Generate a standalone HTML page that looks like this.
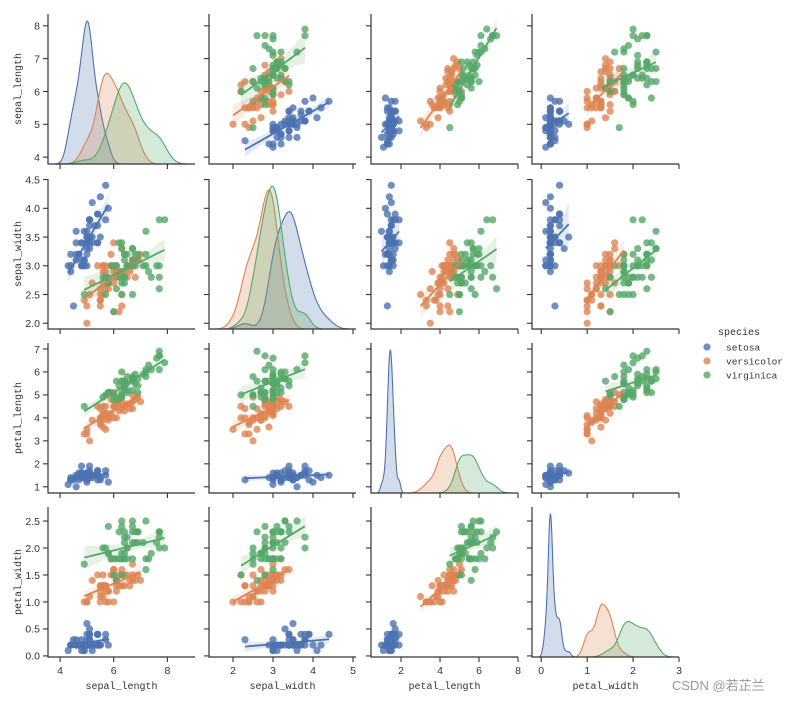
<!DOCTYPE html>
<html><head><meta charset="utf-8"><style>
body{margin:0;background:#fff;}
svg{display:block;}
text{fill:#333;}
</style></head><body>
<svg id="chart" width="788" height="701" xmlns="http://www.w3.org/2000/svg"></svg>
<script>
// ---- data (iris) ----
const species = ["setosa","versicolor","virginica"];
const variables = ["sepal_length","sepal_width","petal_length","petal_width"];
const setosaSL=[5.1,4.9,4.7,4.6,5.0,5.4,4.6,5.0,4.4,4.9,5.4,4.8,4.8,4.3,5.8,5.7,5.4,5.1,5.7,5.1,5.4,5.1,4.6,5.1,4.8,5.0,5.0,5.2,5.2,4.7,4.8,5.4,5.2,5.5,4.9,5.0,5.5,4.9,4.4,5.1,5.0,4.5,4.4,5.0,5.1,4.8,5.1,4.6,5.3,5.0];
const setosaSW=[3.5,3.0,3.2,3.1,3.6,3.9,3.4,3.4,2.9,3.1,3.7,3.4,3.0,3.0,4.0,4.4,3.9,3.5,3.8,3.8,3.4,3.7,3.6,3.3,3.4,3.0,3.4,3.5,3.4,3.2,3.1,3.4,4.1,4.2,3.1,3.2,3.5,3.6,3.0,3.4,3.5,2.3,3.2,3.5,3.8,3.0,3.8,3.2,3.7,3.3];
const setosaPL=[1.4,1.4,1.3,1.5,1.4,1.7,1.4,1.5,1.4,1.5,1.5,1.6,1.4,1.1,1.2,1.5,1.3,1.4,1.7,1.5,1.7,1.5,1.0,1.7,1.9,1.6,1.6,1.5,1.4,1.6,1.6,1.5,1.5,1.4,1.5,1.2,1.3,1.4,1.3,1.5,1.3,1.3,1.3,1.6,1.9,1.4,1.6,1.4,1.5,1.4];
const setosaPW=[0.2,0.2,0.2,0.2,0.2,0.4,0.3,0.2,0.2,0.1,0.2,0.2,0.1,0.1,0.2,0.4,0.4,0.3,0.3,0.3,0.2,0.4,0.2,0.5,0.2,0.2,0.4,0.2,0.2,0.2,0.2,0.4,0.1,0.2,0.2,0.2,0.2,0.1,0.2,0.2,0.3,0.3,0.2,0.6,0.4,0.3,0.2,0.2,0.2,0.2];
const versicolorSL=[7.0,6.4,6.9,5.5,6.5,5.7,6.3,4.9,6.6,5.2,5.0,5.9,6.0,6.1,5.6,6.7,5.6,5.8,6.2,5.6,5.9,6.1,6.3,6.1,6.4,6.6,6.8,6.7,6.0,5.7,5.5,5.5,5.8,6.0,5.4,6.0,6.7,6.3,5.6,5.5,5.5,6.1,5.8,5.0,5.6,5.7,5.7,6.2,5.1,5.7];
const versicolorSW=[3.2,3.2,3.1,2.3,2.8,2.8,3.3,2.4,2.9,2.7,2.0,3.0,2.2,2.9,2.9,3.1,3.0,2.7,2.2,2.5,3.2,2.8,2.5,2.8,2.9,3.0,2.8,3.0,2.9,2.6,2.4,2.4,2.7,2.7,3.0,3.4,3.1,2.3,3.0,2.5,2.6,3.0,2.6,2.3,2.7,3.0,2.9,2.9,2.5,2.8];
const versicolorPL=[4.7,4.5,4.9,4.0,4.6,4.5,4.7,3.3,4.6,3.9,3.5,4.2,4.0,4.7,3.6,4.4,4.5,4.1,4.5,3.9,4.8,4.0,4.9,4.7,4.3,4.4,4.8,5.0,4.5,3.5,3.8,3.7,3.9,5.1,4.5,4.5,4.7,4.4,4.1,4.0,4.4,4.6,4.0,3.3,4.2,4.2,4.2,4.3,3.0,4.1];
const versicolorPW=[1.4,1.5,1.5,1.3,1.5,1.3,1.6,1.0,1.3,1.4,1.0,1.5,1.0,1.4,1.3,1.4,1.5,1.0,1.5,1.1,1.8,1.3,1.5,1.2,1.3,1.4,1.4,1.7,1.5,1.0,1.1,1.0,1.2,1.6,1.5,1.6,1.5,1.3,1.3,1.3,1.2,1.4,1.2,1.0,1.3,1.2,1.3,1.3,1.1,1.3];
const virginicaSL=[6.3,5.8,7.1,6.3,6.5,7.6,4.9,7.3,6.7,7.2,6.5,6.4,6.8,5.7,5.8,6.4,6.5,7.7,7.7,6.0,6.9,5.6,7.7,6.3,6.7,7.2,6.2,6.1,6.4,7.2,7.4,7.9,6.4,6.3,6.1,7.7,6.3,6.4,6.0,6.9,6.7,6.9,5.8,6.8,6.7,6.7,6.3,6.5,6.2,5.9];
const virginicaSW=[3.3,2.7,3.0,2.9,3.0,3.0,2.5,2.9,2.5,3.6,3.2,2.7,3.0,2.5,2.8,3.2,3.0,3.8,2.6,2.2,3.2,2.8,2.8,2.7,3.3,3.2,2.8,3.0,2.8,3.0,2.8,3.8,2.8,2.8,2.6,3.0,3.4,3.1,3.0,3.1,3.1,3.1,2.7,3.2,3.3,3.0,2.5,3.0,3.4,3.0];
const virginicaPL=[6.0,5.1,5.9,5.6,5.8,6.6,4.5,6.3,5.8,6.1,5.1,5.3,5.5,5.0,5.1,5.3,5.5,6.7,6.9,5.0,5.7,4.9,6.7,4.9,5.7,6.0,4.8,4.9,5.6,5.8,6.1,6.4,5.6,5.1,5.6,6.1,5.6,5.5,4.8,5.4,5.6,5.1,5.1,5.9,5.7,5.2,5.0,5.2,5.4,5.1];
const virginicaPW=[2.5,1.9,2.1,1.8,2.2,2.1,1.7,1.8,1.8,2.5,2.0,1.9,2.1,2.0,2.4,2.3,1.8,2.2,2.3,1.5,2.3,2.0,2.0,1.8,2.1,1.8,1.8,1.8,2.1,1.6,1.9,2.0,2.2,1.5,1.4,2.3,2.4,1.8,1.8,2.1,2.4,2.3,1.9,2.3,2.5,2.3,1.9,2.0,2.3,1.8];
const xTicksSL=[4,6,8], xTicksSW=[2,3,4,5], xTicksPL=[2,4,6,8], xTicksPW=[0,1,2,3];
const yTicksSL=[4,5,6,7,8], yTicksSW=[2.0,2.5,3.0,3.5,4.0,4.5], yTicksPL=[1,2,3,4,5,6,7], yTicksPW=[0.0,0.5,1.0,1.5,2.0,2.5];

const DATA={setosa:[setosaSL,setosaSW,setosaPL,setosaPW],versicolor:[versicolorSL,versicolorSW,versicolorPL,versicolorPW],virginica:[virginicaSL,virginicaSW,virginicaPL,virginicaPW]};
const COLORS={setosa:"#4c72b0",versicolor:"#dd8452",virginica:"#55a868"};
const XT=[xTicksSL,xTicksSW,xTicksPL,xTicksPW], YT=[yTicksSL,yTicksSW,yTicksPL,yTicksPW];
const XDOM=[[3.55,9.03],[1.4,5.075],[0.46,8.0],[-0.2,3.0]];
const YDOM=[[3.79,8.36],[1.9,4.51],[0.73,7.26],[-0.02,2.76]];
const COLL=[48,209,371,532], ROWT=[14,179,343,507], PW=147, PH=150;

const NS="http://www.w3.org/2000/svg";
const svg=document.getElementById("chart");
function mk(tag,attrs,parent){const e=document.createElementNS(NS,tag);for(const k in attrs)e.setAttribute(k,attrs[k]);(parent||svg).appendChild(e);return e;}
function xs(c,v){const d=XDOM[c];return COLL[c]+(v-d[0])/(d[1]-d[0])*PW;}
function ys(r,v){const d=YDOM[r];return ROWT[r]+PH-(v-d[0])/(d[1]-d[0])*PH;}
function fmtY(r,v){return r===0||r===2?String(v):v.toFixed(1);}
function mean(a){return a.reduce((s,v)=>s+v,0)/a.length;}
function std(a){const m=mean(a);return Math.sqrt(a.reduce((s,v)=>s+(v-m)*(v-m),0)/(a.length-1));}

for(let r=0;r<4;r++)for(let c=0;c<4;c++){
  const g=mk("g",{});
  
  
  const clipId='clip'+r+c;
  const cp=mk("clipPath",{id:clipId},g);mk("rect",{x:COLL[c],y:ROWT[r],width:PW,height:PH},cp);
  const plot=mk("g",{"clip-path":"url(#"+clipId+")"},g);
  if(r===c){
    // KDE diag
    const curves=[];let gmax=0;
    const d=XDOM[c];
    species.forEach(sp=>{
      const a=DATA[sp][c];const bw=std(a)*Math.pow(a.length,-0.2);
      const lo=Math.min(...a)-3*bw, hi=Math.max(...a)+3*bw;
      const pts=[];
      for(let i=0;i<=200;i++){const x=lo+(hi-lo)*i/200;let s=0;for(const v of a){const z=(x-v)/bw;s+=Math.exp(-0.5*z*z);}
        const dens=s/(a.length*bw*Math.sqrt(2*Math.PI))/3;pts.push([x,dens]);if(dens>gmax)gmax=dens;}
      curves.push([sp,pts]);
    });
    const ymax=gmax*1.05;
    curves.forEach(([sp,pts])=>{
      const base=ROWT[r]+PH;
      const P=pts.map(p=>[xs(c,p[0]),base-p[1]/ymax*PH]);
      let dstr="M"+P[0][0]+","+base+P.map(p=>"L"+p[0].toFixed(2)+","+p[1].toFixed(2)).join("")+"L"+P[P.length-1][0]+","+base+"Z";
      const f=mk("path",{d:dstr,fill:COLORS[sp],"fill-opacity":0.25,stroke:"none"},plot);
      
      
      const l=mk("path",{d:"M"+P.map(p=>p[0].toFixed(2)+","+p[1].toFixed(2)).join("L"),fill:"none",stroke:COLORS[sp],"stroke-width":1.1},plot);
      
      
    });
  } else {
    species.forEach(sp=>{
      const X=DATA[sp][c], Y=DATA[sp][r];
      X.forEach((xv,i)=>{
        const pt=mk("circle",{cx:xs(c,xv).toFixed(2),cy:ys(r,Y[i]).toFixed(2),r:3.6,fill:COLORS[sp],"fill-opacity":0.8},plot);
        
        
      });
    });
    species.forEach(sp=>{
      const X=DATA[sp][c], Y=DATA[sp][r];const n=X.length;
      const mx=mean(X),my=mean(Y);let sxx=0,sxy=0;
      for(let i=0;i<n;i++){sxx+=(X[i]-mx)**2;sxy+=(X[i]-mx)*(Y[i]-my);}
      const b=sxy/sxx,a0=my-b*mx;let sse=0;for(let i=0;i<n;i++)sse+=(Y[i]-a0-b*X[i])**2;
      const s=Math.sqrt(sse/(n-2));
      const lo=Math.min(...X),hi=Math.max(...X);
      const up=[],dn=[];
      for(let i=0;i<=40;i++){const x=lo+(hi-lo)*i/40;const yh=a0+b*x;const se=2.01*s*Math.sqrt(1/n+(x-mx)**2/sxx);
        up.push([xs(c,x),ys(r,yh+se)]);dn.push([xs(c,x),ys(r,yh-se)]);}
      const band=up.concat(dn.reverse());
      const bp=mk("path",{d:"M"+band.map(p=>p[0].toFixed(2)+","+p[1].toFixed(2)).join("L")+"Z",fill:COLORS[sp],"fill-opacity":0.15},plot);
      
      
      const ln=mk("line",{x1:xs(c,lo),y1:ys(r,a0+b*lo),x2:xs(c,hi),y2:ys(r,a0+b*hi),stroke:COLORS[sp],"stroke-width":1.8},plot);
      
      
    });
  }
  // axes
  const x0=COLL[c], yb=ROWT[r]+PH;
  const ax=mk("path",{d:`M${x0},${ROWT[r]}L${x0},${yb}L${x0+PW},${yb}`,fill:"none",stroke:"#333","stroke-width":1.2},g);
  
  
  XT[c].forEach(t=>{const x=xs(c,t);mk("line",{x1:x,y1:yb,x2:x,y2:yb+5,stroke:"#333","stroke-width":1.1},g);
    if(r===3){const tl=mk("text",{x:x,y:yb+17,"text-anchor":"middle","font-size":"10.5","font-family":"Liberation Sans, sans-serif"},g);tl.textContent=t;
      
      }});
  YT[r].forEach(t=>{const y=ys(r,t);mk("line",{x1:x0-5,y1:y,x2:x0,y2:y,stroke:"#333","stroke-width":1.1},g);
    if(c===0){const tl=mk("text",{x:x0-8,y:y+3.8,"text-anchor":"end","font-size":"10.5","font-family":"Liberation Sans, sans-serif"},g);tl.textContent=fmtY(r,t);
      
      }});
}
// axis titles
variables.forEach((v,i)=>{
  const xt=mk("text",{x:COLL[i]+PW/2,y:689,"text-anchor":"middle","font-size":"10","font-family":"Liberation Mono, monospace"});xt.textContent=v;
  
  
  const cy=ROWT[i]+PH/2;
  const yt=mk("text",{x:0,y:0,transform:`translate(21,${cy}) rotate(-90)`,"text-anchor":"middle","font-size":"10","font-family":"Liberation Mono, monospace"});yt.textContent=v;
  
  
});
// legend
const lg=mk("g",{});


const lt=mk("text",{x:718,y:335,"font-size":"10","font-family":"Liberation Mono, monospace"},lg);lt.textContent="species";
species.forEach((sp,i)=>{
  const y=347+i*14;
  const c=mk("circle",{cx:707,cy:y,r:3.6,fill:COLORS[sp],"fill-opacity":0.8},lg);
  
  
  const t=mk("text",{x:726,y:y+3.5,"font-size":"9.5","font-family":"Liberation Mono, monospace"},lg);t.textContent=sp;
  
  
});
const wm=mk("text",{x:672,y:690,"font-size":"13","font-family":"Liberation Sans, Noto Sans CJK SC, sans-serif",style:"fill:#999"});wm.textContent="CSDN @若芷兰";


</script>
</body></html>
